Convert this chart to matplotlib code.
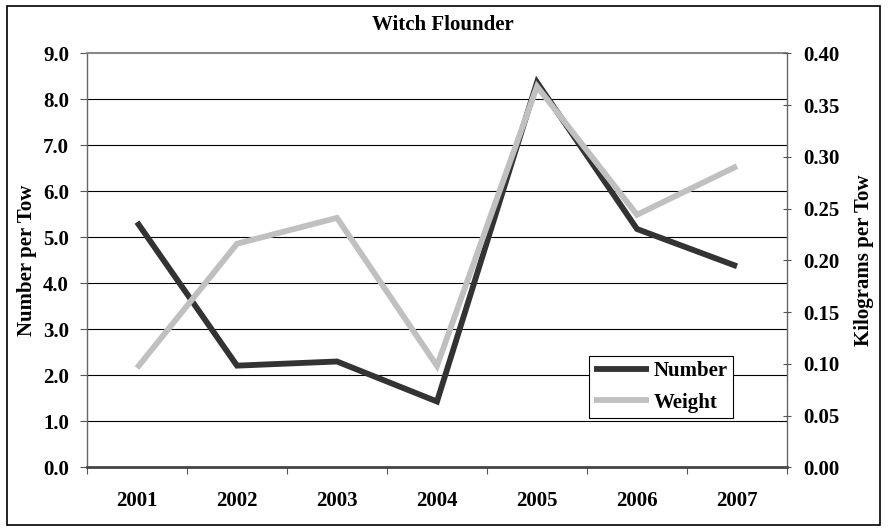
import matplotlib
matplotlib.use("Agg")
import matplotlib.pyplot as plt
from matplotlib.patches import Rectangle
import numpy as np

years = ["2001", "2002", "2003", "2004", "2005", "2006", "2007"]
number_per_tow = [5.33, 2.21, 2.30, 1.43, 8.37, 5.18, 4.37]
kg_per_tow = [0.096, 0.216, 0.241, 0.098, 0.368, 0.244, 0.291]
left_ticks = [0.0, 1.0, 2.0, 3.0, 4.0, 5.0, 6.0, 7.0, 8.0, 9.0]
right_ticks = [0.00, 0.05, 0.10, 0.15, 0.20, 0.25, 0.30, 0.35, 0.40]

plt.rcParams['font.family'] = ['Liberation Serif', 'DejaVu Serif']
plt.rcParams['font.weight'] = 'bold'
FS = 15

fig = plt.figure(figsize=(8.9, 5.31), dpi=100)
fig.patches.append(Rectangle((7/890, 6/531), 873/890, 519/531, transform=fig.transFigure,
                             fill=False, edgecolor='black', linewidth=1.2))

ax = fig.add_axes([87/890, 1-467.3/531, 700/890, 414/531])
x = np.arange(len(years))

ax.set_ylim(0, 9)
ax.set_xlim(-0.5, len(years) - 0.5)
ax.set_yticks(left_ticks)
ax.set_yticklabels([f"{v:.1f}" for v in left_ticks], fontsize=FS, fontweight='bold')
for v in left_ticks[1:-1]:
    ax.axhline(v, color='black', linewidth=0.8, zorder=1)

ax.set_xticks(x)
ax.set_xticklabels(years, fontsize=FS, fontweight='bold')
ax.tick_params(axis='x', which='major', length=0, pad=17)
ax.set_xticks(np.arange(-0.5, len(years), 1.0), minor=True)
ax.tick_params(axis='x', which='minor', length=5, width=0.8, color='#555555', direction='out')
ax.tick_params(axis='y', length=5, width=0.8, color='#555555', direction='out', pad=8)

ax.plot(x, number_per_tow, color='#333333', linewidth=4.2, solid_capstyle='butt',
        solid_joinstyle='miter', zorder=3, label='Number')

for s in ['left', 'right']:
    ax.spines[s].set_color('#666666')
    ax.spines[s].set_linewidth(1.0)
ax.spines['top'].set_color('#888888')
ax.spines['top'].set_linewidth(1.5)
ax.spines['bottom'].set_color('#444444')
ax.spines['bottom'].set_linewidth(2.0)

ax.set_ylabel("Number per Tow", fontsize=FS, fontweight='bold', labelpad=4)

ax2 = ax.twinx()
ax2.set_ylim(0, 0.40)
ax2.set_yticks(right_ticks)
ax2.set_yticklabels([f"{v:.2f}" for v in right_ticks], fontsize=FS, fontweight='bold')
ax2.tick_params(axis='y', length=6, width=0.8, color='#555555', direction='inout', pad=9)
for s in ax2.spines.values():
    s.set_visible(False)
ax2.plot(x, kg_per_tow, color='#C0C0C0', linewidth=4.2, solid_capstyle='butt',
         solid_joinstyle='miter', zorder=3, label='Weight')
ax2.set_ylabel("Kilograms per Tow", fontsize=FS, fontweight='bold', labelpad=10)

fig.text(443/890, 1-25/531, "Witch Flounder", ha='center', va='center', fontsize=FS, fontweight='bold')

h1, l1 = ax.get_legend_handles_labels()
h2, l2 = ax2.get_legend_handles_labels()
leg = ax2.legend(h1 + h2, l1 + l2, loc='upper left', bbox_to_anchor=(589/890, 1-356/531),
                 bbox_transform=fig.transFigure, borderaxespad=0, fancybox=False,
                 framealpha=1, edgecolor='black', handlelength=2.65, handletextpad=0.2,
                 borderpad=0.25, labelspacing=0.55,
                 prop={'size': FS, 'weight': 'bold', 'family': 'Liberation Serif'})
leg.get_frame().set_linewidth(0.8)

fig.savefig("out.png", dpi=100)
